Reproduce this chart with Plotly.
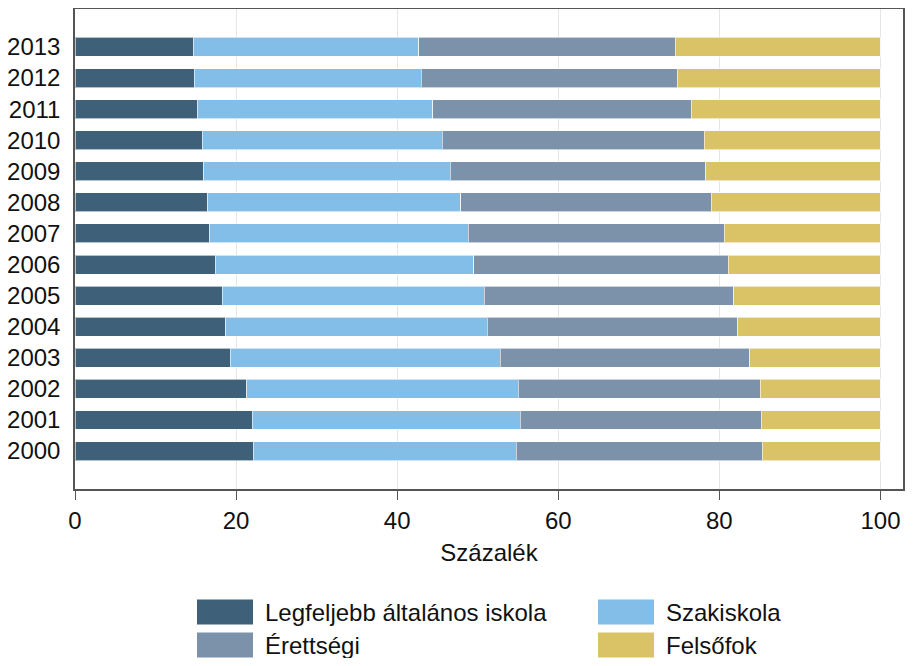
import plotly.graph_objects as go

# years, bottom to top
years = ["2000", "2001", "2002", "2003", "2004", "2005", "2006",
         "2007", "2008", "2009", "2010", "2011", "2012", "2013"]

# shares (%) by highest education level
alapfok = [22.1, 22.0, 21.3, 19.3, 18.7, 18.3, 17.4, 16.7, 16.5, 16.0, 15.8, 15.2, 14.8, 14.7]
szakiskola = [32.7, 33.3, 33.7, 33.5, 32.5, 32.5, 32.1, 32.1, 31.4, 30.6, 29.8, 29.2, 28.2, 28.0]
erettsegi = [30.5, 29.9, 30.1, 31.0, 31.1, 31.0, 31.6, 31.8, 31.1, 31.7, 32.5, 32.1, 31.8, 31.8]
felsofok = [14.7, 14.8, 14.9, 16.2, 17.7, 18.2, 18.9, 19.4, 21.0, 21.7, 21.9, 23.5, 25.2, 25.5]

series_names = ["Legfeljebb általános iskola", "Szakiskola", "Érettségi", "Felsőfok"]
series_values = [alapfok, szakiskola, erettsegi, felsofok]
colors = ["#3E6179", "#82BEE8", "#7B92AA", "#D9C366"]

x_ticks = [0, 20, 40, 60, 80, 100]

FONT = "Liberation Sans, Arial, sans-serif"
FS = 24
# page body adds an 8px margin on every side; keep the figure inside the window
OFF = 8
W, H = 913 - 2 * OFF, 666 - 2 * OFF
M_L, M_R, M_T = 75 - OFF, 2, 9 - OFF
M_B = H - M_T - 480

fig = go.Figure()
for name, vals, col in zip(series_names, series_values, colors):
    fig.add_trace(go.Bar(
        y=years, x=vals, name=name, orientation="h",
        marker=dict(color=col, line=dict(color="rgba(255,255,255,0.6)", width=1)),
        showlegend=False,
    ))


# legend drawn by hand, so the swatches can be wide like in the original
def px_x(px):
    return (px - OFF - M_L) / (W - M_L - M_R)


def px_y(py):
    return (H - M_B - (py - OFF)) / (H - M_T - M_B)


shapes = []
annotations = []
legend_slots = [(197, 612), (598, 612), (197, 645), (598, 645)]
for (lx, ly), i in zip(legend_slots, range(4)):
    shapes.append(dict(
        type="rect", xref="paper", yref="paper",
        x0=px_x(lx), x1=px_x(lx + 56), y0=px_y(ly + 12.5), y1=px_y(ly - 12.5),
        fillcolor=colors[i], line=dict(width=0),
    ))
    annotations.append(dict(
        xref="paper", yref="paper", x=px_x(lx + 66), y=px_y(ly),
        xanchor="left", yanchor="middle", showarrow=False,
        text=series_names[i], font=dict(family=FONT, size=FS, color="#111"),
    ))

fig.update_layout(
    barmode="stack",
    bargap=0.39,
    width=W, height=H,
    margin=dict(l=M_L, r=M_R, t=M_T, b=M_B, autoexpand=False),
    plot_bgcolor="white",
    paper_bgcolor="white",
    font=dict(family=FONT, size=FS, color="#111"),
    shapes=shapes,
    annotations=annotations,
)

fig.update_xaxes(
    automargin=False,
    range=[0, 102.8],
    tickvals=x_ticks,
    showgrid=True, gridcolor="#e6e6e6", gridwidth=1,
    zeroline=False,
    showline=True, linecolor="#555", linewidth=1.5, mirror=True,
    ticks="outside", ticklen=9, tickcolor="#555",
    ticklabelstandoff=0,
    title=dict(text="Százalék", standoff=12, font=dict(size=FS)),
)
fig.update_yaxes(
    automargin=False,
    type="category",
    range=[-1.22, 14.22],
    showgrid=False,
    showline=True, linecolor="#555", linewidth=1.5, mirror=True,
    ticks="",
    ticklabelstandoff=8,
)

fig.write_html("out.html")
